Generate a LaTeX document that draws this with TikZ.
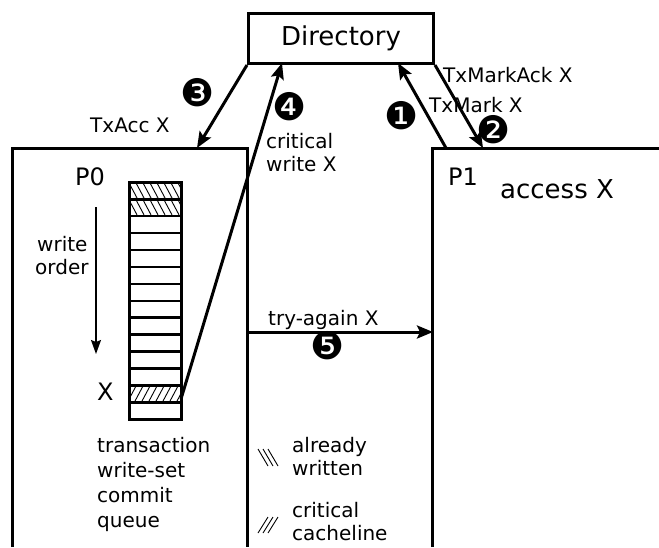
\documentclass[tikz,border=0pt]{standalone}
\usepackage{fontspec}
\setmainfont{DejaVu Sans}
\usetikzlibrary{arrows.meta}
\begin{document}
\begin{tikzpicture}[x=1pt,y=-1pt,
  wall/.style={line width=3pt},
  msg/.style={line width=3pt,-{Stealth[length=16pt,width=13pt,inset=3pt]}},
  lbl/.style={font=\fontsize{20}{23}\selectfont, inner sep=0, anchor=base west},
  big/.style={font=\fontsize{24}{28}\selectfont, inner sep=0, anchor=base west},
  num/.style={font=\fontsize{38}{38}\selectfont, inner sep=0},
  cellbox/.style={draw, line width=2.6pt, minimum width=52pt, minimum height=16.93pt, inner sep=0, anchor=north west},
  hatch/.style={line width=0.9pt}]
\useasboundingbox (0,0) rectangle (659,547);

% Directory
\node[draw, line width=3pt, minimum width=185pt, minimum height=50pt, inner sep=0,
      anchor=north west, font=\fontsize{26}{30}\selectfont] (dir) at (247,12) {Directory};

% processor boxes
\coordinate (p0bl) at (12,547);
\coordinate (p0tl) at (12,148);
\coordinate (p0tr) at (247,148);
\coordinate (p0br) at (247,547);
\coordinate (p1bl) at (432,547);
\coordinate (p1tl) at (432,148);
\coordinate (p1tr) at (659,148);
\draw[wall] (p0bl) -- (p0tl) -- (p0tr) -- (p0br);
\draw[wall] (p1bl) -- (p1tl) -- (p1tr);

\node[big] (p0lbl) at (75,185) {P0};
\node[big] (p1lbl) at (448,185) {P1};
\node[font=\fontsize{26}{30}\selectfont, inner sep=0, anchor=base west] (acc) at (500,198) {access X};

% hatching of queue cells
\foreach \i in {0,1} {
  \pgfmathsetmacro{\yt}{181+16.93*\i}
  \begin{scope}
    \clip (128,\yt) rectangle (180,\yt+16.93);
    \foreach \k in {-14,-7,...,56} \draw[hatch] (128+\k,\yt) -- ++(9,16.93);
  \end{scope}
}
\begin{scope}
  \pgfmathsetmacro{\yt}{181+16.93*12}
  \clip (128,\yt) rectangle (180,\yt+16.93);
  \foreach \k in {-14,-7,...,56} \draw[hatch] (128+\k,\yt+16.93) -- ++(9,-16.93);
\end{scope}

% queue cells
\foreach \i in {0,...,13} {
  \node[cellbox] (c\i) at (128,181+16.93*\i) {};
}

% write order
\coordinate (wtop) at (96,207);
\coordinate (wbot) at (96,354);
\draw[line width=1.5pt, -{Stealth[length=14pt,width=10pt,inset=2pt]}] (wtop) -- (wbot);
\node[lbl] (w1) at (37,251) {write};
\node[lbl] (w2) at (35,274) {order};
\node[big] (xl) at (97,400) {X};

% queue caption
\node[lbl] (q1) at (97,452) {transaction};
\node[lbl] (q2) at (97,477) {write-set};
\node[lbl] (q3) at (97,502) {commit};
\node[lbl] (q4) at (97,527) {queue};

% legend
\foreach \k in {0,5,10} \draw[line width=0.9pt] (258+\k,449) -- ++(10,17);
\node[lbl] (l1) at (292,452) {already};
\node[lbl] (l2) at (292,475) {written};
\foreach \k in {0,5,10} \draw[line width=0.9pt] (258+\k,533) -- ++(10,-16);
\node[lbl] (l3) at (292,517) {critical};
\node[lbl] (l4) at (292,540) {cacheline};

% messages
\coordinate (p0in3) at (197,148);
\coordinate (dirin4) at (282,63);
\coordinate (dirin1) at (398,63);
\coordinate (p1out1) at (446,148);
\coordinate (p1in2) at (483,148);
\coordinate (p0out5) at (247,332);
\coordinate (p1in5) at (433,332);
\coordinate (c12e) at (181,399);

\draw[msg] (dir.south west) -- (p0in3);
\draw[msg] (c12e) -- (dirin4);
\draw[msg] (p1out1) -- (dirin1);
\draw[msg] (dir.south east) -- (p1in2);
\draw[msg] (p0out5) -- (p1in5);

\node[lbl] (t3) at (90,132) {TxAcc X};
\node[lbl] (t4a) at (266,148) {critical};
\node[lbl] (t4b) at (266,171) {write X};
\node[lbl] (t2) at (443,82) {TxMarkAck X};
\node[lbl] (t1) at (429,112) {TxMark X};
\node[lbl] (t5) at (268,325) {try-again X};

\node[num] (n1) at (402,116) {❶};
\node[num] (n2) at (494,130) {❷};
\node[num] (n3) at (198,93) {❸};
\node[num] (n4) at (290,107) {❹};
\node[num] (n5) at (328,346) {❺};
\end{tikzpicture}
\end{document}
